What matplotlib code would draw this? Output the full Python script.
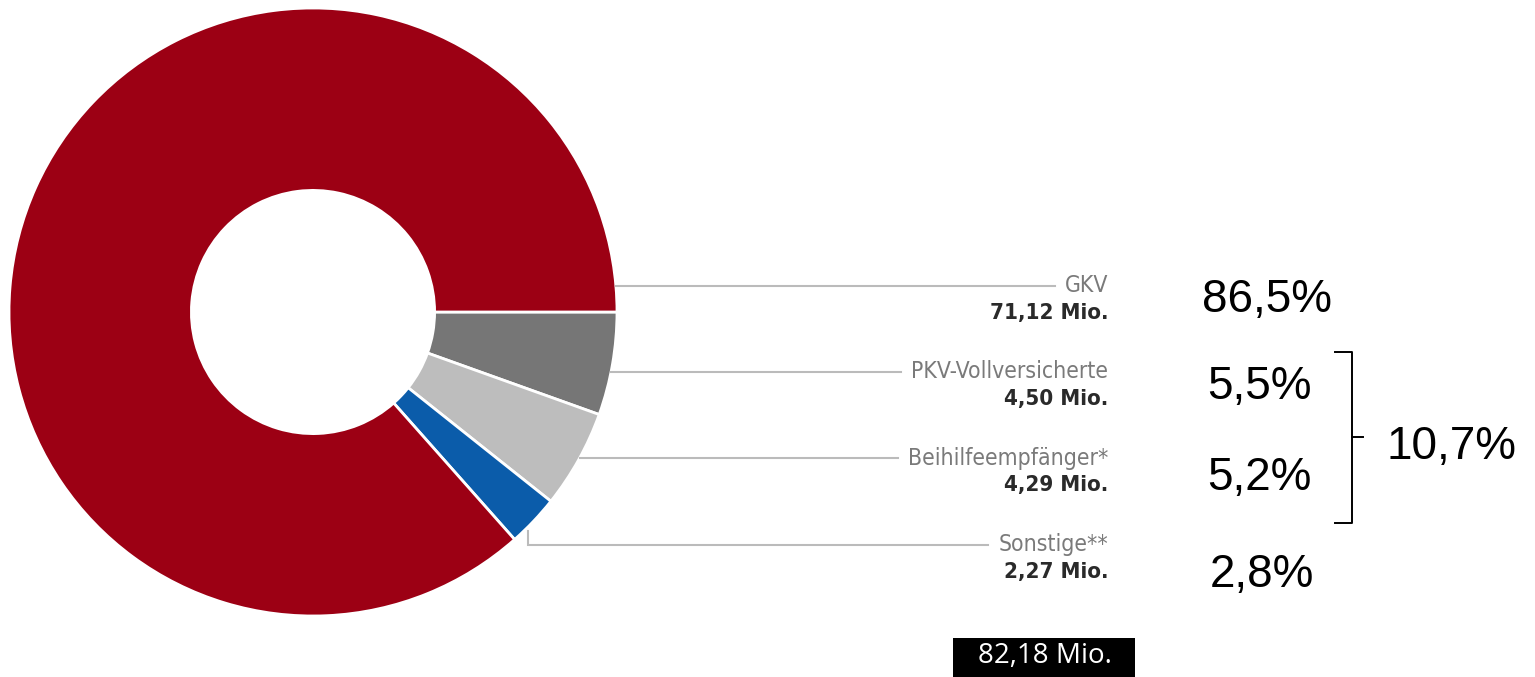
import matplotlib
matplotlib.use("Agg")
import matplotlib.pyplot as plt
from matplotlib import font_manager
from matplotlib.patches import Rectangle
import numpy as np

# ---- data ----
categories = ["PKV-Vollversicherte", "Beihilfeempfänger*", "Sonstige**", "GKV"]
values_mio = [4.50, 4.29, 2.27, 71.12]
colors = ["#767676", "#BDBDBD", "#0B5CAA", "#9C0014"]
label_order = ["GKV", "PKV-Vollversicherte", "Beihilfeempfänger*", "Sonstige**"]
bracket_group = ["PKV-Vollversicherte", "Beihilfeempfänger*"]

fonts = font_manager.fontManager.ttflist
names = {f.name for f in fonts}
arial = "Liberation Sans" if "Liberation Sans" in names else "DejaVu Sans"
boxfont = "Open Sans" if "Open Sans" in names else "DejaVu Sans"

def find_narrow(bold):
    for f in fonts:
        fn = f.fname.lower()
        if not ("narrow" in fn or "condensed" in fn or "narrow" in f.name.lower()):
            continue
        if "mono" in fn or "serif" in fn or "oblique" in fn or "italic" in fn:
            continue
        if ("bold" in fn) == bold:
            return f.fname
    return None

narrow_fp = find_narrow(False)
narrow_bold_fp = find_narrow(True)

def fprops(bold=False, size=15):
    fp = narrow_bold_fp if bold else narrow_fp
    if fp:
        return font_manager.FontProperties(fname=fp, size=size)
    return font_manager.FontProperties(family="DejaVu Sans", stretch="condensed",
                                       weight="bold" if bold else "normal", size=size)

W, H = 1535, 677
fig = plt.figure(figsize=(W / 100, H / 100), dpi=100)
ax = fig.add_axes([0, 0, 1, 1])

cx, cy, R = 313, 312, 304
hole = 0.40
wedges, _ = ax.pie(values_mio, colors=colors, startangle=0, counterclock=True,
                   center=(cx, cy), radius=R,
                   wedgeprops=dict(width=R * (1 - hole), edgecolor="white", linewidth=2))
ax.set_xlim(0, W)
ax.set_ylim(H, 0)
ax.set_aspect("equal")
ax.axis("off")

total = sum(values_mio)
val = dict(zip(categories, values_mio))
pct = {k: round(v / total * 100, 1) for k, v in val.items()}

def fmt(x, nd):
    return f"{x:.{nd}f}".replace(".", ",")

# label positions (layout)
name_y = {"GKV": 286, "PKV-Vollversicherte": 372, "Beihilfeempfänger*": 458, "Sonstige**": 545}
pct_pos = {"GKV": (1202, 300), "PKV-Vollversicherte": (1207, 387),
           "Beihilfeempfänger*": (1207, 478), "Sonstige**": (1210, 575)}
text_right = 1108
line_col = "#BBBBBB"

fig.canvas.draw()
renderer = fig.canvas.get_renderer()
inv = ax.transData.inverted()

for name in label_order:
    y = name_y[name]
    t = ax.text(text_right, y, name, ha="right", va="center",
                fontproperties=fprops(False, 16.5), color="#7A7A7A")
    ax.text(text_right, y + 27, fmt(val[name], 2) + " Mio.", ha="right", va="center",
            fontproperties=fprops(True, 16), color="#2A2A2A")
    bb = t.get_window_extent(renderer)
    x_end = inv.transform((bb.x0, 0))[0] - 10
    if name == "Sonstige**":
        i = categories.index(name)
        w = wedges[i]
        ang = np.deg2rad(w.theta1 + 0.7 * (w.theta2 - w.theta1))
        r0 = R * 1.01
        sx, sy = cx + r0 * np.cos(ang), cy + r0 * np.sin(ang)
        ax.plot([sx, sx, x_end], [sy, y, y], color=line_col, lw=1.5, solid_joinstyle="miter")
    else:
        sx = cx + np.sqrt(R ** 2 - (y - cy) ** 2)
        ax.plot([sx, x_end], [y, y], color=line_col, lw=1.5)
    px, py = pct_pos[name]
    ax.text(px, py, fmt(pct[name], 1) + "%", ha="left", va="center", fontsize=33,
            family=arial, color="black")

# bracket
bx0, bx1, btop, bbot, bmid, btip = 1335, 1352, 352, 523, 437, 1363
ax.plot([bx0, bx1, bx1, bx0], [btop, btop, bbot, bbot], color="black", lw=1.4)
ax.plot([bx1, btip], [bmid, bmid], color="black", lw=1.4)
group_pct = sum(pct[k] for k in bracket_group)
ax.text(1387, 447, fmt(group_pct, 1) + "%", ha="left", va="center", fontsize=33,
        family=arial, color="black")

# total box
ax.add_patch(Rectangle((953, 638), 182, 45, facecolor="black", edgecolor="none"))
ax.text(1045, 656, fmt(total, 2) + " Mio.", ha="center", va="center", fontsize=20,
        family=boxfont, color="white")

fig.savefig("out.png", dpi=100, facecolor="white")
